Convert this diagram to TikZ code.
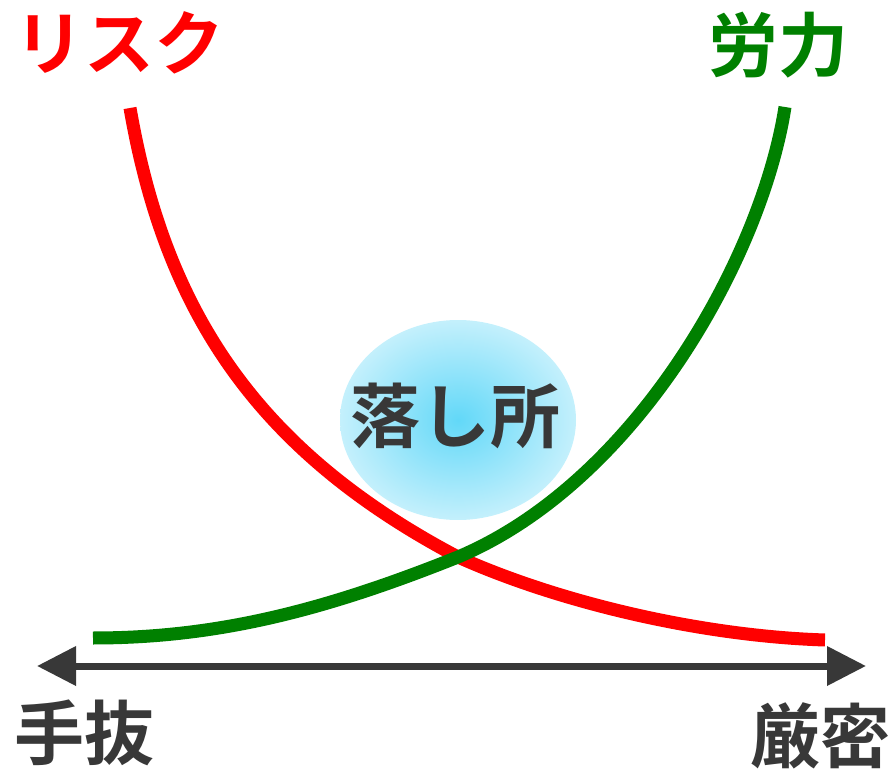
\documentclass[tikz,border=0pt]{standalone}
\usepackage{fontspec}
\newfontfamily\jpb{Noto Sans CJK JP Bold}
\usetikzlibrary{arrows.meta}
\definecolor{dk}{HTML}{383838}
\definecolor{rd}{HTML}{FF0000}
\definecolor{gr}{HTML}{008000}
\definecolor{blin}{HTML}{62D8F8}
\definecolor{blout}{HTML}{C4F0FC}
\tikzset{
  lbl/.style={inner sep=0pt, font=\jpb\fontsize{70}{70}\selectfont},
  curve/.style={line width=13pt, line cap=butt},
}
\begin{document}
\begin{tikzpicture}[x=1pt,y=-1pt]
\useasboundingbox (0,0) rectangle (892,770);
% ellipse
\shade[inner color=blin, outer color=blout] (458,420) ellipse [x radius=118, y radius=100];
\node[lbl, text=dk] (ochi) at (455,416) {落し所};
% curves
\coordinate (X) at (458,557);
\coordinate (rs) at (130,108);
\coordinate (re) at (825,640);
\coordinate (gs) at (93,638);
\coordinate (ge) at (785,107);
\draw[curve, rd] (rs) .. controls (165,310) and (255,450) .. (X)
                      .. controls (558,602) and (700,636) .. (re);
\draw[curve, gr] (gs) .. controls (220,638) and (328,609) .. (X)
                      .. controls (638,481) and (762,255) .. (ge);
% axis
\coordinate (L) at (37,666);
\coordinate (R) at (866,666);
\draw[dk, line width=7pt, {Triangle[length=39pt,width=38pt]}-{Triangle[length=39pt,width=38pt]}] (L) -- (R);
% labels
\node[lbl, text=rd] (risk) at (120,43) {リスク};
\node[lbl, text=gr] (rou) at (778,45) {労力};
\node[lbl, text=dk] (te) at (85,733) {手抜};
\node[lbl, text=dk] (gen) at (820,736) {厳密};
\end{tikzpicture}
\end{document}
